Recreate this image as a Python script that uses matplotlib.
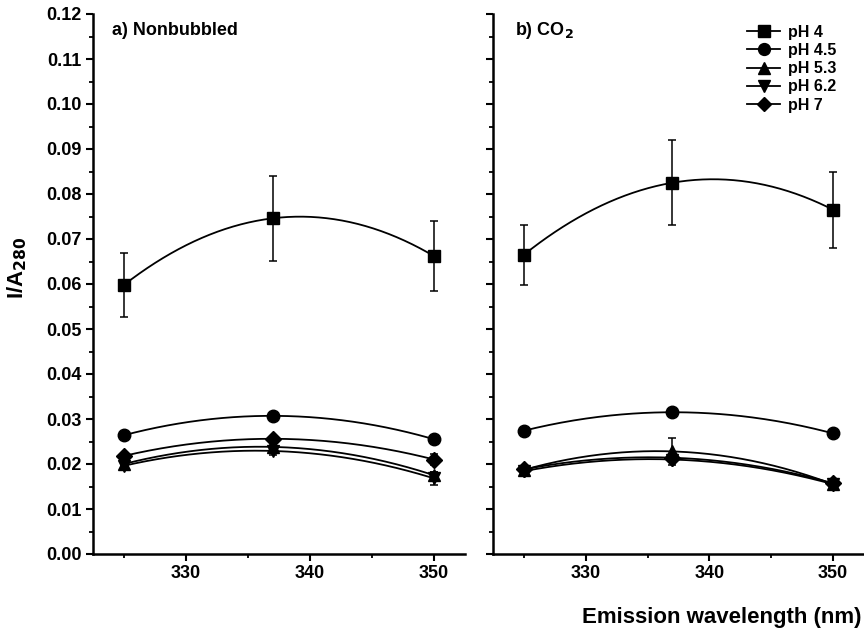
import numpy as np
import matplotlib.pyplot as plt
from matplotlib.lines import Line2D
from matplotlib.ticker import MultipleLocator

plt.rcParams['font.family'] = ['Liberation Sans', 'DejaVu Sans']
plt.rcParams['font.weight'] = 'bold'

wl = [325, 337, 350]
labels = ["pH 4", "pH 4.5", "pH 5.3", "pH 6.2", "pH 7"]
markers = ['s', 'o', '^', 'v', 'D']
msizes = [9, 9, 9, 9, 8]

# a) nonbubbled
ph4_a = [0.0598, 0.0746, 0.0662]
ph45_a = [0.0264, 0.0307, 0.0255]
ph53_a = [0.0200, 0.0238, 0.0175]
ph62_a = [0.0196, 0.0229, 0.0168]
ph7_a = [0.0218, 0.0256, 0.0210]
err4_a = [0.0072, 0.0095, 0.0078]
err45_a = [0.0004, 0.0006, 0.0005]
err53_a = [0.0004, 0.0005, 0.0008]
err62_a = [0.0005, 0.0008, 0.0015]
err7_a = [0.0004, 0.0006, 0.0012]

# b) CO2
ph4_b = [0.0665, 0.0825, 0.0765]
ph45_b = [0.0274, 0.0315, 0.0268]
ph53_b = [0.0187, 0.0228, 0.0155]
ph62_b = [0.0184, 0.0210, 0.0155]
ph7_b = [0.0188, 0.0214, 0.0157]
err4_b = [0.0067, 0.0095, 0.0085]
err45_b = [0.0004, 0.0005, 0.0004]
err53_b = [0.0004, 0.0030, 0.0005]
err62_b = [0.0004, 0.0006, 0.0004]
err7_b = [0.0004, 0.0005, 0.0004]

panel_a = [(ph4_a, err4_a), (ph45_a, err45_a), (ph53_a, err53_a), (ph62_a, err62_a), (ph7_a, err7_a)]
panel_b = [(ph4_b, err4_b), (ph45_b, err45_b), (ph53_b, err53_b), (ph62_b, err62_b), (ph7_b, err7_b)]


def spline_line(x, y):
    # smooth connecting curve (like Origin's spline connect) through the 3 points
    c = np.polyfit(x, y, 2)
    xs = np.linspace(x[0], x[-1], 200)
    return xs, np.polyval(c, xs)


fig = plt.figure(figsize=(8.64, 6.30), dpi=100)
ax1 = fig.add_axes([93/864, 1-554/630, 372/864, 540/630])
ax2 = fig.add_axes([493/864, 1-554/630, 371/864, 540/630])

for ax, panel in [(ax1, panel_a), (ax2, panel_b)]:
    for (vals, err), m, ms in zip(panel, markers, msizes):
        xs, ys = spline_line(wl, vals)
        ax.plot(xs, ys, color='k', lw=1.3)
        ax.errorbar(wl, vals, yerr=err, fmt=m, color='k', ms=ms, elinewidth=1.1,
                    capsize=3, capthick=1.1)
    ax.set_xlim(322.5, 352.5)
    ax.set_ylim(0, 0.12)
    ax.xaxis.set_major_locator(MultipleLocator(10))
    ax.xaxis.set_minor_locator(MultipleLocator(5))
    ax.yaxis.set_major_locator(MultipleLocator(0.01))
    ax.yaxis.set_minor_locator(MultipleLocator(0.005))
    for s in ['top', 'right']:
        ax.spines[s].set_visible(False)
    for s in ['left', 'bottom']:
        ax.spines[s].set_linewidth(1.8)
    ax.tick_params(which='major', direction='out', length=5, width=1.5, labelsize=13, pad=3)
    ax.tick_params(which='minor', direction='out', length=3, width=1.3)
    for lab in ax.get_xticklabels() + ax.get_yticklabels():
        lab.set_fontweight('bold')

ax1.yaxis.set_major_formatter(plt.FuncFormatter(lambda v, p: "%.2f" % v))
ax2.tick_params(axis='y', labelleft=False)

ax1.text(0.05, 0.97, "a) Nonbubbled", transform=ax1.transAxes, fontsize=13,
         fontweight='bold', va='center')
ax2.text(0.06, 0.97, r"b) CO$_\mathbf{2}$", transform=ax2.transAxes, fontsize=13,
         fontweight='bold', va='center')

handles = [Line2D([], [], color='k', marker=m, ms=ms*0.95, lw=1.3) for m, ms in zip(markers, msizes)]
ax2.legend(handles, labels, loc='upper left', bbox_to_anchor=(0.685, 0.98), frameon=False,
           borderpad=0, borderaxespad=0, handlelength=2.05, handletextpad=0.5,
           labelspacing=0.2, prop={'size': 11.5, 'weight': 'bold'})

fig.text(17/864, 1-268/630, r"I/A$_\mathbf{280}$", rotation=90, ha='center', va='center',
         fontsize=16, fontweight='bold')
fig.text(862/864, 1-618/630, "Emission wavelength (nm)", ha='right', va='center',
         fontsize=16, fontweight='bold')

fig.savefig("out.png", dpi=100)
